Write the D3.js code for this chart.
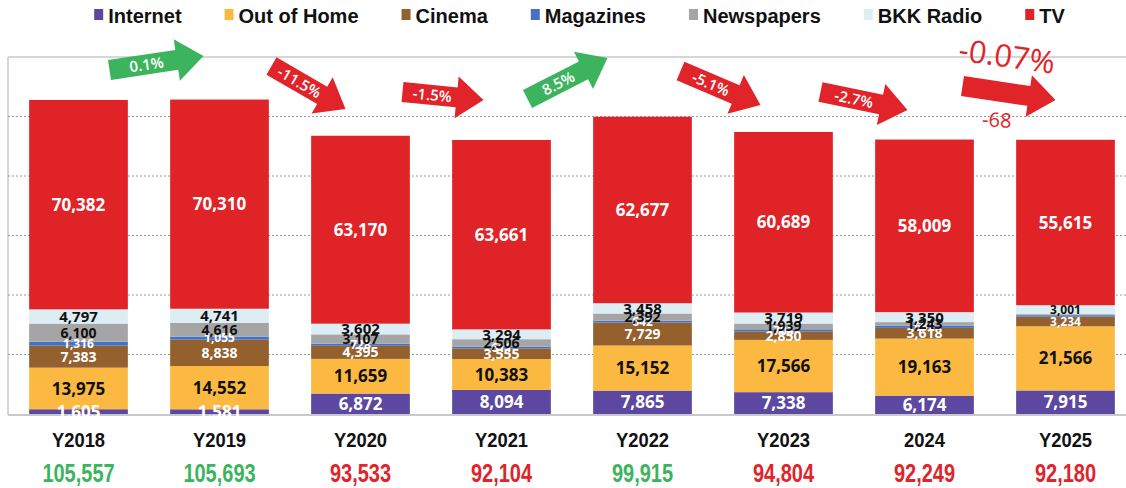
<!DOCTYPE html>
<html lang="en">

<head>
  <meta charset="UTF-8">
  <title>Ad spend by media</title>
  <script src="https://cdn.jsdelivr.net/npm/d3@7/dist/d3.min.js"></script>
  <style>
    body { margin: 0; background: #fff; }
    svg { display: block; }
  </style>
</head>

<body>
  <svg></svg>

  <script>
    const width = 1126;
    const height = 488;

    // data
    const years = ["Y2018", "Y2019", "Y2020", "Y2021", "Y2022", "Y2023", "2024", "Y2025"];
    const seriesNames = ["Internet", "Out of Home", "Cinema", "Magazines", "Newspapers", "BKK Radio", "TV"];
    const internet = [1605, 1581, 6872, 8094, 7865, 7338, 6174, 7915];
    const outOfHome = [13975, 14552, 11659, 10383, 15152, 17566, 19163, 21566];
    const cinema = [7383, 8838, 4395, 3555, 7729, 2850, 3618, 3234];
    const magazines = [1316, 1055, 728, 611, 642, 703, 692, 499];
    const newspapers = [6100, 4616, 3107, 2506, 2392, 1939, 1243, 350];
    const bkkRadio = [4797, 4741, 3602, 3294, 3458, 3719, 3350, 3001];
    const tv = [70382, 70310, 63170, 63661, 62677, 60689, 58009, 55615];
    const totals = [105557, 105693, 93533, 92104, 99915, 94804, 92249, 92180];
    const changeLabels = ["0.1%", "-11.5%", "-1.5%", "8.5%", "-5.1%", "-2.7%", "-0.07%"];
    const lastDiffLabel = "-68";

    const seriesValues = [internet, outOfHome, cinema, magazines, newspapers, bkkRadio, tv];
    const colors = ["#5c47a1", "#fbb941", "#93602e", "#4472c4", "#a5a5a5", "#dcedf4", "#e02327"];
    const labelColors = ["#fff", "#111", "#fff", "#fff", "#111", "#111", "#fff"];
    const labelSizes = [17, 17, 14, 12, 14, 15, 17];
    const green = "#3cb45e";
    const red = "#e0242a";

    const table = years.map((y, i) => {
      const row = { year: y };
      seriesNames.forEach((s, j) => row[s] = seriesValues[j][i]);
      return row;
    });
    const stacked = d3.stack().keys(seriesNames)(table);

    const svg = d3.select("svg").attr("width", width).attr("height", height);

    const x = d3.scaleBand().domain(years).range([8, 1136]).paddingInner(0.3).paddingOuter(0.15);
    const y = d3.scaleLinear().domain([0, 120000]).range([414, 57]);

    // frame + grid
    svg.append("line").attr("x1", 8).attr("x2", width).attr("y1", 57).attr("y2", 57)
      .attr("stroke", "#c9c9c9").attr("stroke-width", 1.5);
    svg.append("line").attr("x1", 8).attr("x2", 8).attr("y1", 57).attr("y2", 415)
      .attr("stroke", "#c9c9c9").attr("stroke-width", 1.5);
    svg.append("g").selectAll("line")
      .data(d3.range(20000, 120000, 20000)).join("line")
      .attr("x1", 8).attr("x2", width)
      .attr("y1", d => y(d)).attr("y2", d => y(d))
      .attr("stroke", "#9a9a9a").attr("stroke-dasharray", "2,2");

    // bars
    const layer = svg.append("g").selectAll("g").data(stacked).join("g")
      .attr("fill", (d, j) => colors[j]);
    layer.selectAll("rect").data(d => d).join("rect")
      .attr("x", d => x(d.data.year))
      .attr("width", x.bandwidth())
      .attr("y", d => y(d[1]))
      .attr("height", d => y(d[0]) - y(d[1]));

    svg.append("line").attr("x1", 8).attr("x2", width).attr("y1", 415).attr("y2", 415)
      .attr("stroke", "#c9c9c9").attr("stroke-width", 2);

    // segment labels
    const fmt = d3.format(",");
    stacked.forEach((s, j) => {
      svg.append("g").selectAll("text").data(s).join("text")
        .filter(d => !(d.data.year === "Y2025" && (j === 3 || j === 4)))
        .attr("x", d => x(d.data.year) + x.bandwidth() / 2)
        .attr("y", d => y((d[0] + d[1]) / 2))
        .attr("dy", "0.36em")
        .attr("text-anchor", "middle")
        .attr("font-family", "'Open Sans', 'Noto Sans', sans-serif")
        .attr("font-weight", 700)
        .attr("font-size", d => (d.data.year === "Y2025" && (j === 2 || j === 5)) ? 12 : labelSizes[j])
        .attr("fill", labelColors[j])
        .text(d => fmt(d[1] - d[0]));
    });

    // year labels + totals (narrow look via horizontal squeeze)
    const sans = "'Liberation Sans', Arial, sans-serif";
    svg.append("g").selectAll("text").data(years).join("text")
      .attr("transform", d => `translate(${x(d) + x.bandwidth() / 2},447) scale(0.92,1)`)
      .attr("text-anchor", "middle")
      .attr("font-family", sans).attr("font-weight", 700).attr("font-size", 20)
      .attr("fill", "#111")
      .text(d => d);
    svg.append("g").selectAll("text").data(totals).join("text")
      .attr("transform", (d, i) => `translate(${x(years[i]) + x.bandwidth() / 2},482) scale(0.8,1)`)
      .attr("text-anchor", "middle")
      .attr("font-family", sans).attr("font-weight", 700).attr("font-size", 25)
      .attr("fill", (d, i) => (i === 0 || d > totals[i - 1]) ? green : red)
      .text(d => fmt(d));

    // legend
    const legend = svg.append("g").attr("font-family", sans).attr("font-weight", 700).attr("font-size", 20);
    let lx = 0;
    const gap = 43;
    seriesNames.forEach((name, j) => {
      const g = legend.append("g");
      g.append("rect").attr("width", 9).attr("height", 11).attr("y", -14).attr("fill", colors[j]);
      const t = g.append("text").attr("x", 14).attr("fill", "#111").text(name);
      const w = 14 + t.node().getComputedTextLength();
      g.attr("transform", `translate(${lx},0)`);
      lx += w + gap;
    });
    const legendW = lx - gap;
    legend.attr("transform", `translate(${(99 + 1060 - legendW) / 2},23)`);

    // change arrows: tail / tip offsets from the band centres
    const arrowGeom = [
      { dx0: 31, y0: 70, dx1: -16, y1: 56 },
      { dx0: 52, y0: 66, dx1: -15, y1: 109 },
      { dx0: 42, y0: 92, dx1: -18, y1: 100 },
      { dx0: 26, y0: 99, dx1: -35, y1: 58 },
      { dx0: 38, y0: 71, dx1: -23, y1: 105 },
      { dx0: 37, y0: 92, dx1: -17, y1: 110 },
      { dx0: 38, y0: 86, dx1: -10, y1: 100 }
    ];
    const cx = i => x(years[i]) + x.bandwidth() / 2;
    const bw = 10, hw = 21, hl = 27;
    const arrowLen = i => {
      const a = arrowGeom[i];
      return Math.hypot(cx(i + 1) + a.dx1 - cx(i) - a.dx0, a.y1 - a.y0);
    };

    const arrows = svg.append("g").selectAll("g").data(changeLabels).join("g")
      .attr("transform", (d, i) => {
        const a = arrowGeom[i];
        const x0 = cx(i) + a.dx0, x1 = cx(i + 1) + a.dx1;
        const ang = Math.atan2(a.y1 - a.y0, x1 - x0) * 180 / Math.PI;
        return `translate(${x0},${a.y0}) rotate(${ang})`;
      });
    arrows.append("path")
      .attr("fill", (d, i) => totals[i + 1] > totals[i] ? green : red)
      .attr("d", (d, i) => {
        const L = arrowLen(i);
        return `M0,${-bw}L${L - hl},${-bw}L${L - hl},${-hw}L${L},0L${L - hl},${hw}L${L - hl},${bw}L0,${bw}Z`;
      });
    arrows.filter((d, i) => i < changeLabels.length - 1).append("text")
      .attr("x", (d, i) => (arrowLen(i) - hl) * 0.55)
      .attr("dy", "0.36em")
      .attr("text-anchor", "middle")
      .attr("font-family", "'Open Sans', 'Noto Sans', sans-serif")
      .attr("font-weight", 600).attr("font-size", 15)
      .attr("fill", "#fff")
      .text(d => d);

    // last change shown outside the arrow
    const last = changeLabels.length - 1;
    svg.append("text")
      .attr("transform", `translate(${cx(last) + 81},67) rotate(8)`)
      .attr("text-anchor", "middle")
      .attr("font-family", "'Open Sans', 'Noto Sans', sans-serif")
      .attr("font-size", 31).attr("fill", red)
      .text(changeLabels[last]);
    svg.append("text")
      .attr("transform", `translate(${cx(last) + 72},127) rotate(3)`)
      .attr("text-anchor", "middle")
      .attr("font-family", "'Open Sans', 'Noto Sans', sans-serif")
      .attr("font-size", 20).attr("fill", red)
      .text(lastDiffLabel);
  </script>
</body>

</html>
